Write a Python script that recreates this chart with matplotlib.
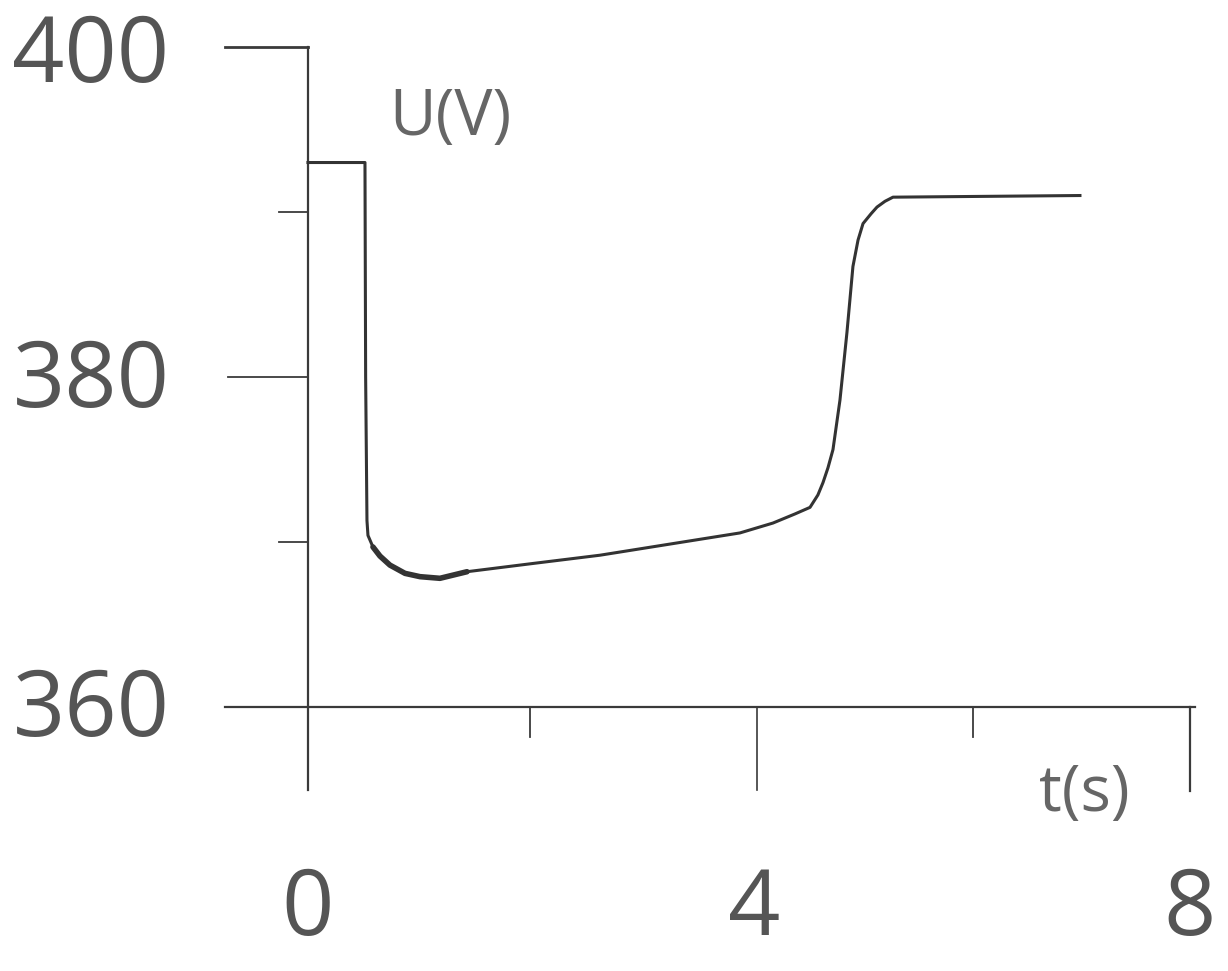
import matplotlib
matplotlib.use("Agg")
import matplotlib.pyplot as plt

# Data
t_s = [0.0, 0.514, 0.52, 0.532, 0.541, 0.586, 0.649, 0.739, 0.875, 1.010, 1.190, 1.434,
       2.029, 2.633, 3.895, 4.193, 4.391, 4.527, 4.598, 4.644, 4.689, 4.734, 4.797,
       4.860, 4.914, 4.960, 5.005, 5.078, 5.131, 5.203, 5.275, 6.961]
u_v = [393.0, 393.0, 380.0, 371.3, 370.4, 369.7, 369.15, 368.6, 368.1, 367.9, 367.8, 368.2,
       368.7, 369.2, 370.55, 371.15, 371.7, 372.1, 372.85, 373.6, 374.5, 375.6, 378.6,
       382.7, 386.7, 388.3, 389.3, 389.9, 390.3, 390.65, 390.9, 391.0]

x_ticks = [0, 4, 8]
x_tick_labels = ["0", "4", "8"]
y_ticks = [400, 380, 360]
y_tick_labels = ["400", "380", "360"]
x_minor = [2, 6]
y_minor = [390, 370]

plt.rcParams['font.family'] = ['Open Sans', 'DejaVu Sans']

fig = plt.figure(figsize=(12.28, 9.71), dpi=100)
ax = fig.add_axes([0, 0, 1, 1])
ax.set_xlim(-2.777, 8.296)
ax.set_ylim(344.0, 402.85)
ax.axis('off')

axc = '#3a3a3a'
# axes lines
ax.plot([0, 0], [400, 355.0], color=axc, lw=1.6)
ax.plot([-0.75, 8.0], [360, 360], color=axc, lw=1.6)
ax.plot([7.95, 7.95], [360, 354.9], color=axc, lw=1.6)
ax.plot([-0.75, 0], [400, 400], color=axc, lw=2.0)
ax.plot([-0.72, 0], [380, 380], color=axc, lw=1.3)
for yv in y_minor:
    ax.plot([-0.26, 0], [yv, yv], color=axc, lw=1.3)
ax.plot([4.05, 4.05], [360, 355.0], color=axc, lw=1.2)
for xv in x_minor:
    ax.plot([xv, xv], [360, 358.2], color=axc, lw=1.3)

# curve
ax.plot(t_s, u_v, color='#333333', lw=2.2, solid_joinstyle='round')
ax.plot(t_s[5:12], u_v[5:12], color='#333333', lw=4.0, solid_capstyle='round',
        solid_joinstyle='round')

lab = '#555555'
y_label_pos = {400: 399.3, 380: 379.6, 360: 359.7}
for yv, s in zip(y_ticks, y_tick_labels):
    ax.text(-1.957, y_label_pos[yv], s, ha='center', va='center', fontsize=66, color=lab)
x_label_off = {0: 0.0, 4: 0.02, 8: -0.05}
for xv, s in zip(x_ticks, x_tick_labels):
    ax.text(xv + x_label_off[xv], 347.6, s, ha='center', va='center', fontsize=66, color=lab)

ax.text(1.28, 395.7, "U(V)", ha='center', va='center', fontsize=46, color='#666666')
ax.text(7.0, 354.7, "t(s)", ha='center', va='center', fontsize=46, color='#666666')

fig.savefig("out.png", dpi=100, facecolor='white')
